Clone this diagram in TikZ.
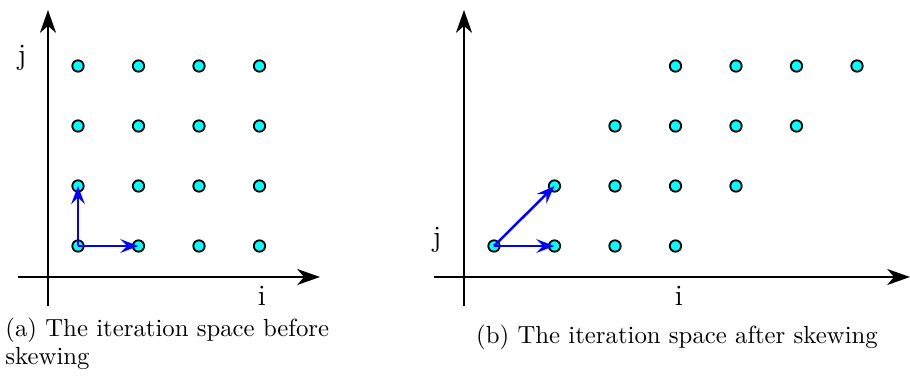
\documentclass[tikz,border=0pt]{standalone}
\usetikzlibrary{arrows.meta}
\definecolor{dotcyan}{RGB}{0,255,255}
\definecolor{depblue}{RGB}{0,0,255}

\begin{document}
\begin{tikzpicture}[x=0.44pt, y=-0.44pt, line join=round,
	dot/.style={circle, draw=black, fill=dotcyan, line width=0.8pt, inner sep=0pt, minimum size=5pt},
	axis/.style={line width=1.3pt, -{Stealth[length=10pt,width=7pt,inset=3pt]}},
	dep/.style={depblue, line width=1.1pt, -{Stealth[length=8pt,width=6pt,inset=3pt]}},
	lbl/.style={font=\fontsize{13}{15}\selectfont},
	captxt/.style={font=\fontsize{10.9}{12.6}\selectfont, inner sep=0pt}]
	\useasboundingbox (0,0) rectangle (910,383);
	\def\dx{60.5} \def\dy{60} % Bước lưới
	% (a) truoc khi skew
	\coordinate (aO1) at (48,306); \coordinate (aO2) at (48,10);
	\coordinate (aX1) at (18,277); \coordinate (aX2) at (320,277);
	\draw[axis] (aO1)--(aO2);
	\draw[axis] (aX1)--(aX2);
	\node[lbl] (aj) at (22,58) {j};
	\node[lbl] (ai) at (262,296) {i};
	\foreach \i in {0,...,3}
		\foreach \j in {0,...,3}
			\node[dot] (a\i\j) at (78+\dx*\i,246-\dy*\j) {};
	\draw[dep] (a00.center)--(a10.center);
	\draw[dep] (a00.center)--(a01.center);
	\node[captxt, anchor=north west, text width=150pt, align=left] (capa) at (5,317)
		{(a) The iteration space before skewing};
	% (b) sau khi skew
	\coordinate (bO1) at (464,306); \coordinate (bO2) at (464,10);
	\coordinate (bX1) at (434,277); \coordinate (bX2) at (910,277);
	\draw[axis] (bO1)--(bO2);
	\draw[axis] (bX1)--(bX2);
	\node[lbl] (bj) at (437,240) {j};
	\node[lbl] (bi) at (679,296) {i};
	\foreach \i in {0,...,3}
		\foreach \j in {0,...,3}
			\node[dot] (b\i\j) at (494+\dx*\i+\dx*\j,246-\dy*\j) {};
	\draw[dep] (b00.center)--(b10.center);
	\draw[dep] (b00.center)--(b01.center);
	\node[captxt] (capb) at (677,337) {(b) The iteration space after skewing};
\end{tikzpicture}
\end{document}
